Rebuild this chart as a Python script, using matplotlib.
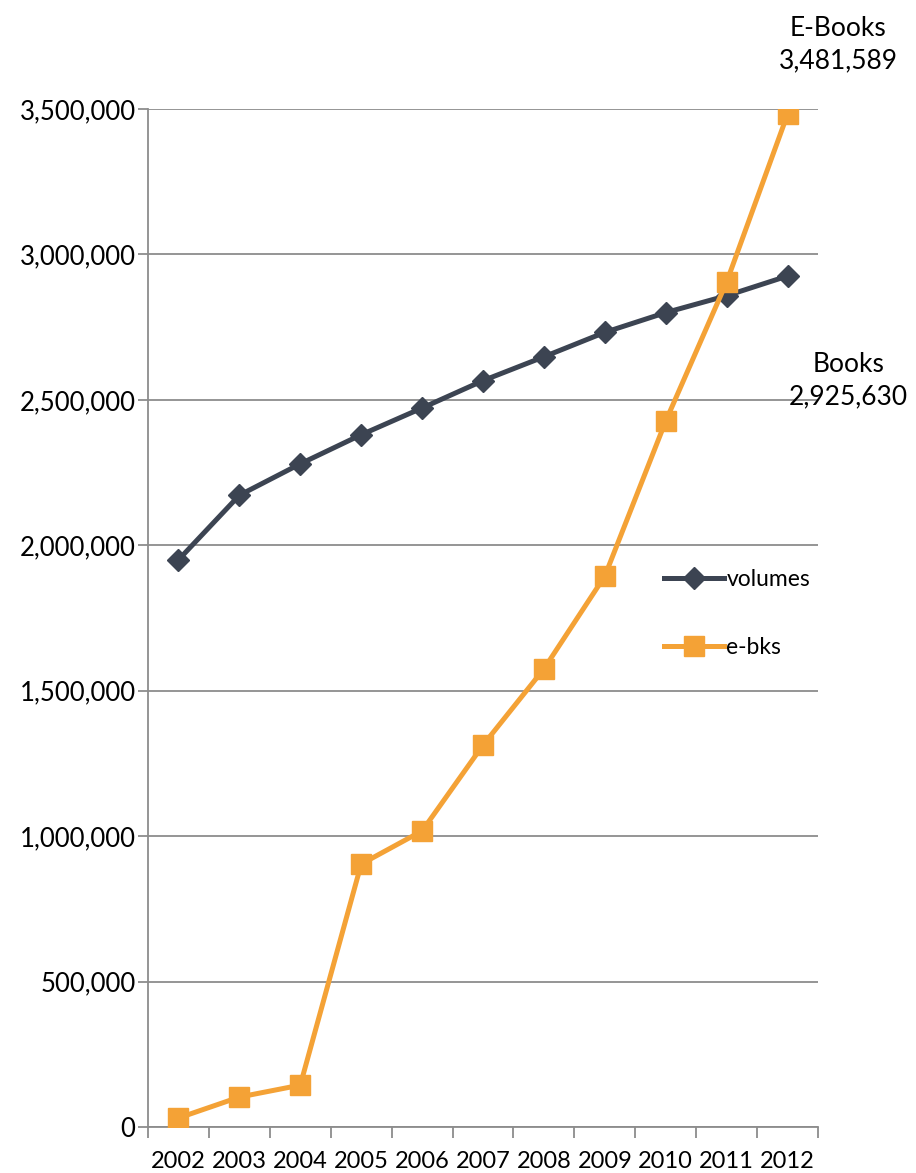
import matplotlib.pyplot as plt
import numpy as np

years = ["2002", "2003", "2004", "2005", "2006", "2007", "2008", "2009", "2010", "2011", "2012"]
volumes = [1950000, 2172000, 2280000, 2380000, 2472000, 2566000, 2648000, 2732000, 2800000, 2858000, 2925630]
ebooks = [31000, 103000, 144000, 904000, 1018000, 1313000, 1575000, 1894000, 2427000, 2905000, 3481589]
yticks = [0, 500000, 1000000, 1500000, 2000000, 2500000, 3000000, 3500000]

plt.rcParams['font.family'] = ['Lato', 'DejaVu Sans']

fig = plt.figure(figsize=(9.16, 11.73), dpi=100)
ax = fig.add_axes([0.1616, 0.0392, 0.7314, 0.8679])

x = np.arange(len(years))
ax.plot(x, volumes, color="#3C4452", lw=3.6, marker="D", markersize=11, label="volumes", zorder=3)
ax.plot(x, ebooks, color="#F4A236", lw=3.6, marker="s", markersize=14, label="e-bks", zorder=3)

ax.set_xlim(-0.5, len(years) - 0.5)
ax.set_ylim(0, 3500000)
ax.set_yticks(yticks)
ax.set_yticklabels(["{:,}".format(v) for v in yticks], fontsize=18.5)
ax.yaxis.grid(True, color="#8C8C8C", lw=1.3)
ax.set_axisbelow(True)

ax.set_xticks(np.arange(-0.5, len(years), 1))
ax.set_xticklabels([])
ax.set_xticks(x, minor=True)
ax.set_xticklabels(years, minor=True, fontsize=17)
ax.tick_params(axis="x", which="major", length=8, color="#8C8C8C", width=1.3)
ax.tick_params(axis="x", which="minor", length=0, pad=17)
ax.tick_params(axis="y", length=7, color="#8C8C8C", width=1.3, pad=2)

for s in ["top", "right"]:
    ax.spines[s].set_visible(False)
for s in ["left", "bottom"]:
    ax.spines[s].set_color("#8C8C8C")
    ax.spines[s].set_linewidth(1.3)

ax.text(1.03, 1.035, "E-Books\n" + "{:,}".format(ebooks[-1]), transform=ax.transAxes,
        ha="center", va="bottom", fontsize=19, linespacing=1.35)
ax.text(1.045, 0.705, "Books\n" + "{:,}".format(volumes[-1]), transform=ax.transAxes,
        ha="center", va="bottom", fontsize=19, linespacing=1.35, clip_on=False)

ax.legend(loc="upper left", bbox_to_anchor=(0.74, 0.568), frameon=False, fontsize=16.5,
          labelspacing=2.05, handlelength=2.6, handletextpad=0.1)

plt.savefig("out.png", dpi=100)
